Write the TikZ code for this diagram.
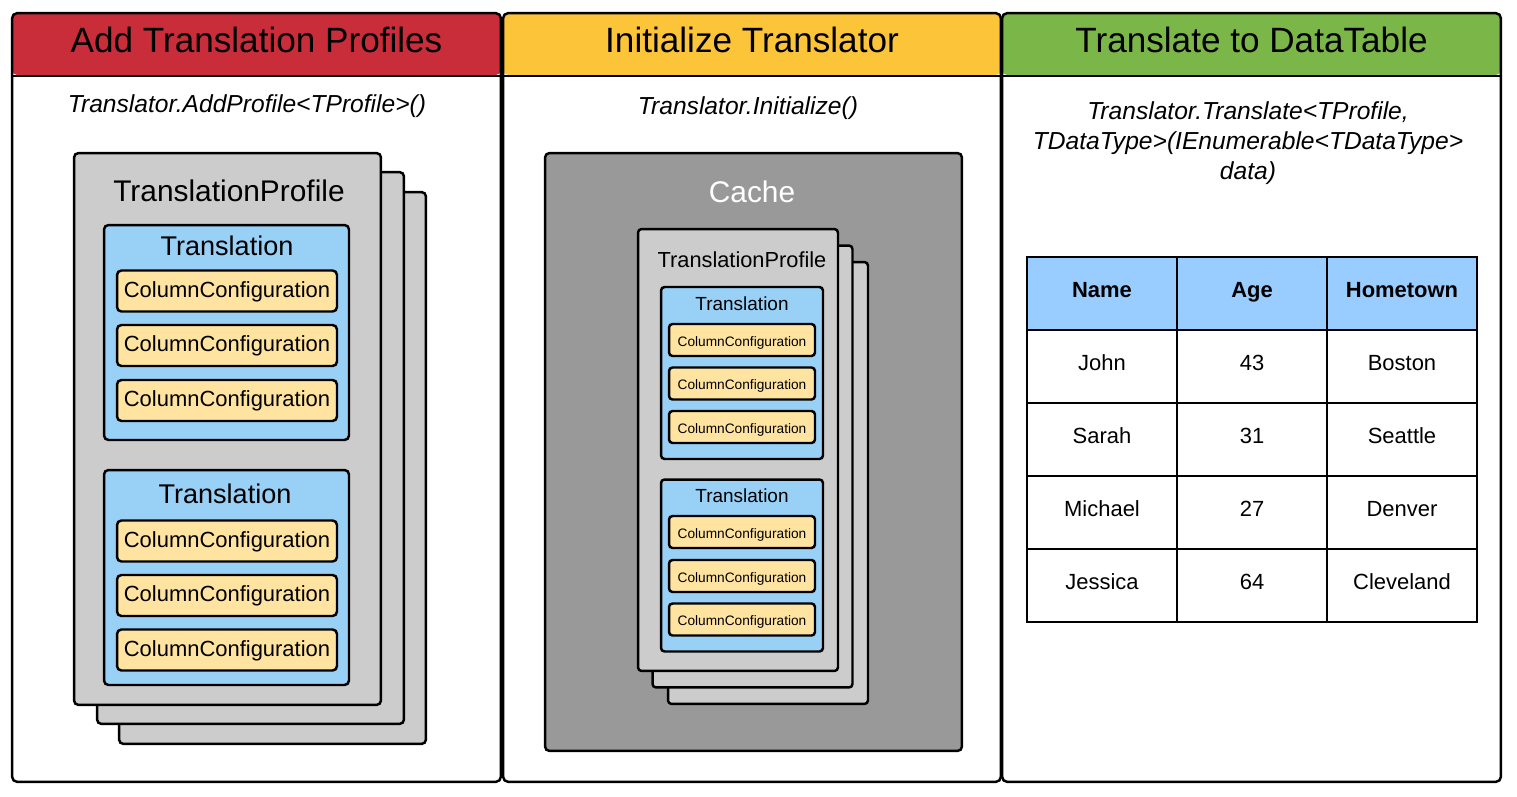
\documentclass[tikz,border=0pt]{standalone}
\usepackage{fontspec}
\setmainfont{Liberation Sans}
\definecolor{addred}{HTML}{C92D39}
\definecolor{inityellow}{HTML}{FCC438}
\definecolor{tablegreen}{HTML}{7AB648}
\definecolor{profilegray}{HTML}{CCCCCC}
\definecolor{cachegray}{HTML}{999999}
\definecolor{translationblue}{HTML}{99D0F5}
\definecolor{columnyellow}{HTML}{FFE3A0}
\definecolor{headerblue}{HTML}{99CCFF}

\begin{document}
\begin{tikzpicture}[x=0.02cm, y=-0.02cm, line width=1.4pt, every node/.style={inner sep=0pt},
  panel/.style={draw, fill=white, rounded corners=3pt, minimum height=15.38cm,
    path picture={\fill[#1] (path picture bounding box.north west) rectangle ([yshift=-1.24cm]path picture bounding box.north east);}},
  title/.style={minimum height=1.4cm, font=\fontsize{20}{24}\selectfont},
  call/.style={align=center, font=\itshape\fontsize{14}{17}\selectfont},
  bigprofile/.style={draw, fill=profilegray, rounded corners=2.5pt, minimum width=6.14cm, minimum height=11.04cm},
  bigtrans/.style={draw, fill=translationblue, rounded corners=2.5pt, minimum width=4.9cm, minimum height=4.3cm},
  bigcol/.style={draw, fill=columnyellow, rounded corners=2.5pt, minimum width=4.4cm, minimum height=0.82cm, text height=0.72em, text depth=0pt, font=\fontsize{12.5}{15}\selectfont},
  smallprofile/.style={draw, fill=profilegray, rounded corners=2pt, minimum width=4cm, minimum height=8.84cm},
  smalltrans/.style={draw, fill=translationblue, rounded corners=2pt, minimum width=3.24cm, minimum height=3.44cm},
  smallcol/.style={draw, fill=columnyellow, rounded corners=2pt, minimum width=2.92cm, minimum height=0.64cm, text height=0.72em, text depth=0pt, font=\fontsize{7.8}{9}\selectfont},
  cell/.style={draw, line width=1.1pt, minimum width=3cm, minimum height=1.46cm, text height=0.72em, text depth=0.25em, font=\fontsize{12.5}{15}\selectfont},
  headcell/.style={cell, fill=headerblue, font=\bfseries\fontsize{12.5}{15}\selectfont}]
\useasboundingbox (0,0) rectangle (1517,797);

% Add Translation Profiles
\node[panel=addred, minimum width=9.78cm] (addpanel) at (256.5,397.5) {};
\node[title, minimum width=9.78cm] (addtitle) at (256.5,40) {Add Translation Profiles};
\draw (addtitle.south west) -- (addtitle.south east);
\node[call] (addcall) at (247,106) {Translator.AddProfile<TProfile>()};
\node[bigprofile] (addprof3) at (272.5,468) {};
\node[bigprofile] (addprof2) at (250.5,448) {};
\node[bigprofile] (addprof1) at (227.5,429) {};
\node[font=\fontsize{17}{20}\selectfont] (addproflabel) at (229,191) {TranslationProfile};
\node[bigtrans] (addtrans1) at (226.5,332.5) {};
\node[font=\fontsize{15.4}{18}\selectfont] (addtrans1label) at (227,246) {Translation};
\node[bigcol] (addcol11) at (227,291) {ColumnConfiguration};
\node[bigcol] (addcol12) at (227,345.5) {ColumnConfiguration};
\node[bigcol] (addcol13) at (227,400.5) {ColumnConfiguration};
\node[bigtrans] (addtrans2) at (226.5,577.5) {};
\node[font=\fontsize{15.4}{18}\selectfont] (addtrans2label) at (225,494) {Translation};
\node[bigcol] (addcol21) at (227,541) {ColumnConfiguration};
\node[bigcol] (addcol22) at (227,595.5) {ColumnConfiguration};
\node[bigcol] (addcol23) at (227,650) {ColumnConfiguration};

% Initialize Translator
\node[panel=inityellow, minimum width=9.96cm] (initpanel) at (752,397.5) {};
\node[title, minimum width=9.96cm] (inittitle) at (752,40) {Initialize Translator};
\draw (inittitle.south west) -- (inittitle.south east);
\node[call] (initcall) at (748,108) {Translator.Initialize()};
\node[draw, fill=cachegray, rounded corners=2.5pt, minimum width=8.34cm, minimum height=11.96cm] (cache) at (753.5,452) {};
\node[text=white, font=\fontsize{17}{20}\selectfont] (cachelabel) at (752,192) {Cache};
\node[smallprofile] (initprof3) at (768,483) {};
\node[smallprofile] (initprof2) at (752.5,466.5) {};
\node[smallprofile] (initprof1) at (738,450) {};
\node[font=\fontsize{12.4}{15}\selectfont] (initproflabel) at (742,260) {TranslationProfile};
\node[smalltrans] (inittrans1) at (742,373) {};
\node[font=\fontsize{10.8}{13}\selectfont] (inittrans1label) at (742,304) {Translation};
\node[smallcol] (initcol11) at (742,340) {ColumnConfiguration};
\node[smallcol] (initcol12) at (742,383.5) {ColumnConfiguration};
\node[smallcol] (initcol13) at (742,427) {ColumnConfiguration};
\node[smalltrans] (inittrans2) at (742,565.5) {};
\node[font=\fontsize{10.8}{13}\selectfont] (inittrans2label) at (742,496) {Translation};
\node[smallcol] (initcol21) at (742,532) {ColumnConfiguration};
\node[smallcol] (initcol22) at (742,576) {ColumnConfiguration};
\node[smallcol] (initcol23) at (742,619.5) {ColumnConfiguration};

% Translate to DataTable
\node[panel=tablegreen, minimum width=9.98cm] (tablepanel) at (1251.5,397.5) {};
\node[title, minimum width=9.98cm] (tabletitle) at (1251.5,40) {Translate to DataTable};
\draw (tabletitle.south west) -- (tabletitle.south east);
\node[call] (tablecall) at (1248,143) {Translator.Translate<TProfile,\\TDataType>(IEnumerable<TDataType>\\data)};
\node[headcell] (namehead) at (1102,293.5) {Name};
\node[headcell] (agehead) at (1252,293.5) {Age};
\node[headcell] (townhead) at (1402,293.5) {Hometown};
\node[cell] (name1) at (1102,366.5) {John};
\node[cell] (age1) at (1252,366.5) {43};
\node[cell] (town1) at (1402,366.5) {Boston};
\node[cell] (name2) at (1102,439.5) {Sarah};
\node[cell] (age2) at (1252,439.5) {31};
\node[cell] (town2) at (1402,439.5) {Seattle};
\node[cell] (name3) at (1102,512.5) {Michael};
\node[cell] (age3) at (1252,512.5) {27};
\node[cell] (town3) at (1402,512.5) {Denver};
\node[cell] (name4) at (1102,585.5) {Jessica};
\node[cell] (age4) at (1252,585.5) {64};
\node[cell] (town4) at (1402,585.5) {Cleveland};
\end{tikzpicture}
\end{document}
